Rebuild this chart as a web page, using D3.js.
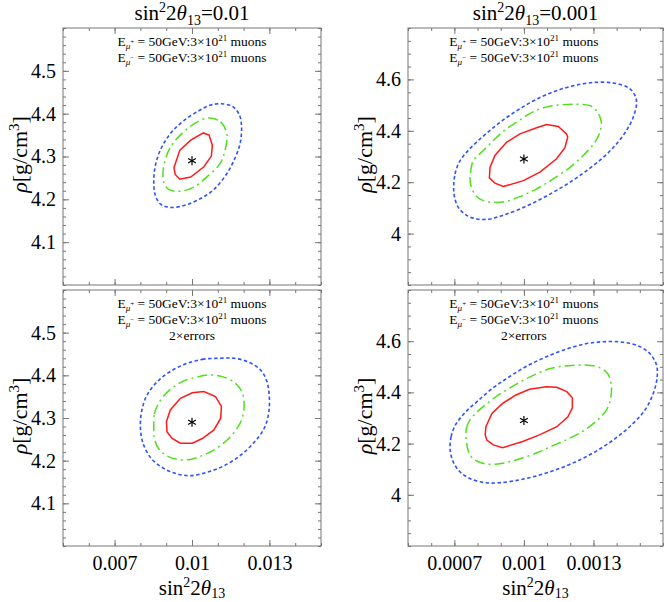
<!DOCTYPE html>
<html>
<head>
<meta charset="utf-8">
<script src="https://d3js.org/d3.v7.min.js"></script>
<style>
  body { margin: 0; background: #fff; }
  svg { font-family: "Liberation Serif", "Times New Roman", serif; }
  .tick line { stroke: #777; }
</style>
</head>
<body>
<script>
// column titles
var colTitles = ['0.01', '0.001'];

// tick values and labels
var xTicksA = [0.007, 0.01, 0.013];
var xLabelsA = ['0.007', '0.01', '0.013'];
var xTicksB = [0.0007, 0.001, 0.0013];
var xLabelsB = ['0.0007', '0.001', '0.0013'];
var yTicksA = [4.1, 4.2, 4.3, 4.4, 4.5];
var yLabelsA = ['4.1', '4.2', '4.3', '4.4', '4.5'];
var yTicksB = [4.0, 4.2, 4.4, 4.6];
var yLabelsB = ['4', '4.2', '4.4', '4.6'];

// best fit points
var bestFit = [[0.01, 4.29], [0.001, 4.29], [0.01, 4.29], [0.001, 4.29]];

// top left: sin^2 2theta = 0.01
var tlRed = [[0.00930,4.274],[0.00953,4.315],[0.00995,4.338],[0.01044,4.355],[0.01066,4.350],[0.01079,4.326],
  [0.01075,4.301],[0.01046,4.276],[0.00995,4.252],[0.00953,4.247],[0.00935,4.258]];
var tlGreen = [[0.01066,4.390],[0.01111,4.381],[0.01135,4.353],[0.01127,4.312],[0.01109,4.284],[0.01059,4.253],
  [0.01008,4.229],[0.00956,4.219],[0.00910,4.223],[0.00891,4.239],[0.00888,4.266],[0.00901,4.301],
  [0.00923,4.328],[0.00956,4.351],[0.00995,4.371],[0.01031,4.384]];
var tlBlue = [[0.01111,4.423],[0.01157,4.417],[0.01183,4.398],[0.01192,4.371],[0.01187,4.332],[0.01170,4.301],
  [0.01137,4.262],[0.01085,4.223],[0.01040,4.204],[0.00982,4.188],[0.00923,4.181],[0.00880,4.188],
  [0.00858,4.209],[0.00852,4.247],[0.00862,4.289],[0.00888,4.328],[0.00930,4.363],[0.00982,4.390],
  [0.01033,4.409],[0.01072,4.420]];

// top right: sin^2 2theta = 0.001
var trRed = [[0.000854,4.258],[0.000851,4.217],[0.000875,4.196],[0.000911,4.183],[0.000998,4.206],[0.001069,4.239],
  [0.001141,4.291],[0.001177,4.334],[0.001189,4.376],[0.001184,4.388],[0.001148,4.417],[0.001098,4.424],
  [0.001055,4.412],[0.000983,4.388],[0.000926,4.356],[0.000875,4.304]];
var trGreen = [[0.000770,4.193],[0.000770,4.239],[0.000782,4.284],[0.000825,4.323],[0.000868,4.362],[0.000911,4.398],
  [0.000969,4.434],[0.001026,4.467],[0.001084,4.490],[0.001156,4.501],[0.001228,4.503],[0.001285,4.498],
  [0.001317,4.473],[0.001334,4.434],[0.001325,4.388],[0.001302,4.350],[0.001256,4.304],[0.001199,4.258],
  [0.001127,4.213],[0.001055,4.174],[0.000983,4.144],[0.000918,4.124],[0.000868,4.122],[0.000818,4.131],
  [0.000789,4.152]];
var trBlue = [[0.000697,4.180],[0.000703,4.232],[0.000721,4.278],[0.000753,4.317],[0.000796,4.356],[0.000854,4.402],
  [0.000918,4.447],[0.000983,4.486],[0.001055,4.523],[0.001134,4.554],[0.001213,4.575],[0.001299,4.588],
  [0.001386,4.586],[0.001450,4.568],[0.001479,4.538],[0.001486,4.506],[0.001472,4.454],[0.001443,4.402],
  [0.001400,4.350],[0.001343,4.297],[0.001271,4.245],[0.001199,4.200],[0.001127,4.161],[0.001055,4.126],
  [0.000983,4.096],[0.000911,4.072],[0.000854,4.057],[0.000796,4.057],[0.000750,4.073],[0.000717,4.102],
  [0.000701,4.141]];

// bottom left: 0.01, 2x errors
var blRed = [[0.00903,4.268],[0.00901,4.292],[0.00916,4.319],[0.00955,4.346],[0.01001,4.359],[0.01046,4.362],
  [0.01091,4.350],[0.01114,4.327],[0.01111,4.299],[0.01085,4.272],[0.01040,4.252],[0.01001,4.241],
  [0.00955,4.241],[0.00923,4.252]];
var blGreen = [[0.00852,4.280],[0.00854,4.309],[0.00871,4.335],[0.00897,4.356],[0.00929,4.373],[0.00968,4.387],
  [0.01020,4.396],[0.01072,4.401],[0.01117,4.397],[0.01163,4.384],[0.01193,4.362],[0.01202,4.331],
  [0.01194,4.299],[0.01173,4.274],[0.01137,4.249],[0.01091,4.227],[0.01040,4.212],[0.00994,4.203],
  [0.00942,4.203],[0.00901,4.212],[0.00871,4.228],[0.00854,4.252]];
var blBlue = [[0.01111,4.440],[0.01046,4.438],[0.00981,4.428],[0.00916,4.409],[0.00865,4.385],[0.00826,4.354],
  [0.00806,4.319],[0.00800,4.280],[0.00810,4.241],[0.00841,4.206],[0.00890,4.182],[0.00942,4.169],
  [0.00994,4.165],[0.01059,4.173],[0.01124,4.188],[0.01189,4.213],[0.01241,4.243],[0.01280,4.276],
  [0.01298,4.315],[0.01298,4.362],[0.01286,4.393],[0.01260,4.416],[0.01215,4.432],[0.01163,4.440]];

// bottom right: 0.001, 2x errors
var brRed = [[0.000833,4.234],[0.000836,4.266],[0.000862,4.318],[0.000908,4.357],[0.000966,4.390],[0.001024,4.412],
  [0.001096,4.422],[0.001142,4.420],[0.001185,4.403],[0.001209,4.379],[0.001209,4.340],[0.001190,4.305],
  [0.001142,4.266],[0.001067,4.234],[0.000995,4.208],[0.000908,4.184],[0.000868,4.195],[0.000840,4.214]];
var brGreen = [[0.000751,4.214],[0.000752,4.260],[0.000767,4.292],[0.000796,4.322],[0.000836,4.353],[0.000879,4.383],
  [0.000937,4.416],[0.000995,4.446],[0.001053,4.472],[0.001118,4.494],[0.001190,4.504],[0.001262,4.507],
  [0.001327,4.497],[0.001363,4.471],[0.001377,4.429],[0.001374,4.377],[0.001356,4.331],[0.001312,4.288],
  [0.001255,4.249],[0.001190,4.218],[0.001125,4.192],[0.001053,4.163],[0.000980,4.140],[0.000908,4.123],
  [0.000851,4.119],[0.000796,4.132],[0.000767,4.156]];
var brBlue = [[0.000682,4.175],[0.000686,4.227],[0.000706,4.275],[0.000747,4.322],[0.000800,4.366],[0.000865,4.416],
  [0.000937,4.461],[0.001009,4.501],[0.001089,4.536],[0.001175,4.567],[0.001262,4.589],[0.001341,4.598],
  [0.001428,4.596],[0.001500,4.579],[0.001546,4.549],[0.001572,4.507],[0.001575,4.461],[0.001558,4.396],
  [0.001522,4.331],[0.001471,4.279],[0.001399,4.223],[0.001320,4.175],[0.001240,4.136],[0.001154,4.103],
  [0.001067,4.077],[0.000980,4.058],[0.000894,4.047],[0.000836,4.047],[0.000771,4.062],[0.000724,4.090],
  [0.000695,4.129]];

var width = 664;
var height = 602;
var serif = '"Liberation Serif", "Times New Roman", serif';

var svg = d3.select('body').append('svg')
    .attr('width', width)
    .attr('height', height);

var panels = [
  { left: 63, right: 321, top: 28, bottom: 285, xDomain: [0.005, 0.015], yDomain: [4.0, 4.6],
    xTicks: xTicksA, xLabels: xLabelsA, xStep: 0.001, yTicks: yTicksA, yLabels: yLabelsA, yStep: 0.02,
    red: tlRed, green: tlGreen, blue: tlBlue, star: bestFit[0], errors: false, showX: false },
  { left: 408, right: 663, top: 28, bottom: 285, xDomain: [0.0005, 0.0016], yDomain: [3.8, 4.8],
    xTicks: xTicksB, xLabels: xLabelsB, xStep: 0.0001, yTicks: yTicksB, yLabels: yLabelsB, yStep: 0.05,
    red: trRed, green: trGreen, blue: trBlue, star: bestFit[1], errors: false, showX: false },
  { left: 63, right: 321, top: 290, bottom: 546, xDomain: [0.005, 0.015], yDomain: [4.0, 4.6],
    xTicks: xTicksA, xLabels: xLabelsA, xStep: 0.001, yTicks: yTicksA, yLabels: yLabelsA, yStep: 0.02,
    red: blRed, green: blGreen, blue: blBlue, star: bestFit[2], errors: true, showX: true },
  { left: 408, right: 663, top: 290, bottom: 546, xDomain: [0.0005, 0.0016], yDomain: [3.8, 4.8],
    xTicks: xTicksB, xLabels: xLabelsB, xStep: 0.0001, yTicks: yTicksB, yLabels: yLabelsB, yStep: 0.05,
    red: brRed, green: brGreen, blue: brBlue, star: bestFit[3], errors: true, showX: true }
];

panels.forEach(drawPanel);

// column titles
[0, 1].forEach(function(i) {
  var p = panels[i];
  var t = svg.append('text')
      .attr('x', (p.left + p.right) / 2)
      .attr('y', 20)
      .attr('text-anchor', 'middle')
      .style('font-size', '21px');
  sinLabel(t, 5);
  t.append('tspan').attr('dy', -5).text('=' + colTitles[i]);
});

function sinLabel(t, sub) {
  t.append('tspan').text('sin');
  t.append('tspan').attr('dy', -8).style('font-size', '14px').text('2');
  t.append('tspan').attr('dy', 8).text('2');
  t.append('tspan').style('font-style', 'italic').text('θ');
  t.append('tspan').attr('dy', sub).style('font-size', '14px').text('13');
}

function minorValues(domain, step) {
  var n = Math.round((domain[1] - domain[0]) / step);
  return d3.range(0, n + 1).map(k => domain[0] + k * step);
}

function drawPanel(p) {
  var x = d3.scaleLinear().domain(p.xDomain).range([p.left, p.right]);
  var y = d3.scaleLinear().domain(p.yDomain).range([p.bottom, p.top]);
  var g = svg.append('g');

  var xMinor = minorValues(p.xDomain, p.xStep);
  var yMinor = minorValues(p.yDomain, p.yStep);

  // minor ticks on all four sides, pointing in
  g.append('g').attr('transform', 'translate(0,' + p.bottom + ')')
    .call(d3.axisBottom(x).tickValues(xMinor).tickSize(-3).tickFormat(''));
  g.append('g').attr('transform', 'translate(0,' + p.top + ')')
    .call(d3.axisTop(x).tickValues(xMinor).tickSize(-3).tickFormat(''));
  g.append('g').attr('transform', 'translate(' + p.left + ',0)')
    .call(d3.axisLeft(y).tickValues(yMinor).tickSize(-3).tickFormat(''));
  g.append('g').attr('transform', 'translate(' + p.right + ',0)')
    .call(d3.axisRight(y).tickValues(yMinor).tickSize(-3).tickFormat(''));

  // major ticks
  g.append('g').attr('transform', 'translate(0,' + p.bottom + ')')
    .call(d3.axisBottom(x).tickValues(p.xTicks).tickSize(-6).tickPadding(10)
      .tickFormat((d, i) => p.showX ? p.xLabels[i] : ''));
  g.append('g').attr('transform', 'translate(0,' + p.top + ')')
    .call(d3.axisTop(x).tickValues(p.xTicks).tickSize(-6).tickFormat(''));
  g.append('g').attr('transform', 'translate(' + p.left + ',0)')
    .call(d3.axisLeft(y).tickValues(p.yTicks).tickSize(-6).tickPadding(7)
      .tickFormat((d, i) => p.yLabels[i]));
  g.append('g').attr('transform', 'translate(' + p.right + ',0)')
    .call(d3.axisRight(y).tickValues(p.yTicks).tickSize(-6).tickFormat(''));

  g.selectAll('.domain').remove();
  g.selectAll('.tick text').filter(function() { return this.textContent === ''; }).remove();
  g.selectAll('g').attr('font-family', serif).attr('font-size', 20);
  g.selectAll('.tick text')
      .attr('font-family', serif)
      .style('font-family', serif)
      .style('font-size', '20px')
      .attr('fill', '#000');

  g.append('rect')
      .attr('x', p.left)
      .attr('y', p.top)
      .attr('width', p.right - p.left)
      .attr('height', p.bottom - p.top)
      .attr('fill', 'none')
      .attr('stroke', '#777');

  // contours
  var smooth = d3.line().x(d => x(d[0])).y(d => y(d[1])).curve(d3.curveCatmullRomClosed.alpha(0.5));
  var poly = d3.line().x(d => x(d[0])).y(d => y(d[1])).curve(d3.curveLinearClosed);

  g.append('path').attr('d', smooth(p.blue))
      .attr('fill', 'none').attr('stroke', '#2f52ff').attr('stroke-width', 1.6)
      .attr('stroke-dasharray', '3.5,2.5');
  g.append('path').attr('d', smooth(p.green))
      .attr('fill', 'none').attr('stroke', '#4ee01a').attr('stroke-width', 1.5)
      .attr('stroke-dasharray', '10,4,2,4');
  g.append('path').attr('d', poly(p.red))
      .attr('fill', 'none').attr('stroke', '#ff1a1a').attr('stroke-width', 1.5);

  // best fit asterisk
  var cx = x(p.star[0]), cy = y(p.star[1]);
  var arms = [90, 30, -30];
  g.selectAll('.arm').data(arms).enter().append('line')
      .attr('x1', a => cx - 4.5 * Math.cos(a * Math.PI / 180))
      .attr('y1', a => cy - 4.5 * Math.sin(a * Math.PI / 180))
      .attr('x2', a => cx + 4.5 * Math.cos(a * Math.PI / 180))
      .attr('y2', a => cy + 4.5 * Math.sin(a * Math.PI / 180))
      .attr('stroke', '#000').attr('stroke-width', 1.2);

  // legend text
  var lx = x(p.star[0]);
  ['+', '\u2212'].forEach(function(sign, i) {
    var t = g.append('text')
        .attr('x', lx)
        .attr('y', p.top + 18 + i * 16)
        .attr('text-anchor', 'middle')
        .style('font-size', '13.5px');
    t.append('tspan').text('E');
    t.append('tspan').attr('dy', 3).style('font-size', '9px').style('font-style', 'italic').text('μ');
    t.append('tspan').attr('dy', -5).style('font-size', '7px').text(sign);
    t.append('tspan').attr('dy', 2).text(' = 50GeV:3×10');
    t.append('tspan').attr('dy', -5).style('font-size', '9px').text('21');
    t.append('tspan').attr('dy', 5).text(' muons');
  });
  if (p.errors) {
    g.append('text')
        .attr('x', lx)
        .attr('y', p.top + 50)
        .attr('text-anchor', 'middle')
        .style('font-size', '13.5px')
        .text('2×errors');
  }

  // y axis label
  var yl = g.append('text')
      .attr('transform', 'translate(' + (p.left - 36) + ',' + ((p.top + p.bottom) / 2 - 2) + ') rotate(-90)')
      .attr('text-anchor', 'middle')
      .style('font-size', '22px');
  yl.append('tspan').style('font-style', 'italic').text('ρ');
  yl.append('tspan').text('[g/cm');
  yl.append('tspan').attr('dy', -8).style('font-size', '15px').text('3');
  yl.append('tspan').attr('dy', 8).text(']');

  // x axis label
  if (p.showX) {
    var xl = g.append('text')
        .attr('x', (p.left + p.right) / 2)
        .attr('y', 595)
        .attr('text-anchor', 'middle')
        .style('font-size', '21px');
    sinLabel(xl, 3);
  }
}
</script>
</body>
</html>
